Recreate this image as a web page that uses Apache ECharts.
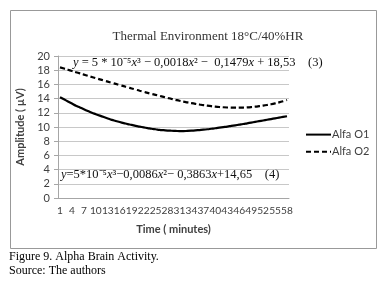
<!DOCTYPE html>
<html>
<head>
<meta charset="utf-8">
<script src="https://cdn.jsdelivr.net/npm/echarts@6/dist/echarts.min.js"></script>
<style>
  html, body { margin: 0; padding: 0; background: #fff; }
  #chart { width: 382px; height: 286px; }
</style>
</head>
<body>
<div id="chart"></div>
<script>
// minutes 1..58
var minutes = [];
for (var i = 1; i <= 58; i++) minutes.push(String(i));

// Alfa O1 (solid)
var alfaO1 = [
  14.2, 13.9, 13.6, 13.3, 13.0, 12.75, 12.5, 12.25, 12.0, 11.8,
  11.6, 11.4, 11.2, 11.0, 10.85, 10.7, 10.55, 10.4, 10.3, 10.15,
  10.05, 9.95, 9.85, 9.75, 9.68, 9.6, 9.55, 9.5, 9.47, 9.45,
  9.43, 9.43, 9.45, 9.48, 9.52, 9.57, 9.62, 9.68, 9.75, 9.82,
  9.9, 9.98, 10.06, 10.15, 10.24, 10.33, 10.42, 10.52, 10.62, 10.72,
  10.82, 10.92, 11.02, 11.12, 11.22, 11.32, 11.42, 11.52
];

// Alfa O2 (dashed)
var alfaO2 = [
  18.4, 18.23, 18.06, 17.89, 17.72, 17.55, 17.38, 17.21, 17.04, 16.87,
  16.71, 16.55, 16.39, 16.23, 16.07, 15.91, 15.75, 15.59, 15.43, 15.27,
  15.11, 14.96, 14.81, 14.66, 14.52, 14.38, 14.24, 14.1, 13.96, 13.83,
  13.7, 13.58, 13.47, 13.36, 13.26, 13.17, 13.08, 13.0, 12.93, 12.87,
  12.82, 12.78, 12.75, 12.73, 12.72, 12.72, 12.74, 12.77, 12.81, 12.86,
  12.93, 13.01, 13.1, 13.2, 13.32, 13.46, 13.62, 13.8
];

var sans = 'Lato';
var serif = 'Liberation Serif';

var myChart = echarts.init(document.getElementById('chart'));
myChart.setOption({
  animation: false,
  title: {
    text: 'Thermal Environment 18°C/40%HR',
    left: 208,
    textAlign: 'center',
    top: 30,
    padding: 0,
    textStyle: { fontFamily: serif, fontSize: 13, fontWeight: 'normal', color: '#333' }
  },
  legend: {
    orient: 'vertical',
    left: 305,
    top: 129,
    padding: 0,
    itemWidth: 25,
    itemHeight: 14,
    itemGap: 6,
    itemStyle: { opacity: 0 },
    textStyle: { fontFamily: sans, fontSize: 11, color: '#404040', padding: [0, 0, 0, -4] },
    data: ['Alfa O1', 'Alfa O2']
  },
  grid: { left: 58, right: 93, top: 56, bottom: 88 },
  xAxis: {
    type: 'category',
    data: minutes,
    boundaryGap: true,
    name: 'Time ( minutes)',
    nameLocation: 'middle',
    nameGap: 26,
    nameTextStyle: { fontFamily: sans, fontSize: 11, fontWeight: 'bold', color: '#404040' },
    axisLine: { lineStyle: { color: '#a6a6a6' } },
    axisTick: { interval: 0, length: 4, lineStyle: { color: '#a6a6a6' } },
    axisLabel: {
      interval: 2, fontFamily: sans, fontSize: 10.2, color: '#404040',
      margin: 8, hideOverlap: false
    },
    splitLine: { show: false }
  },
  yAxis: {
    type: 'value',
    min: 0,
    max: 20,
    interval: 2,
    name: 'Amplitude ( µV)',
    nameLocation: 'middle',
    nameGap: 19,
    nameTextStyle: { fontFamily: sans, fontSize: 11, fontWeight: 'bold', color: '#404040' },
    axisLine: { show: true, lineStyle: { color: '#a6a6a6' } },
    axisTick: { show: true, length: 4, lineStyle: { color: '#a6a6a6' } },
    axisLabel: { fontFamily: sans, fontSize: 11, color: '#404040', margin: 8 },
    splitLine: { lineStyle: { color: '#c8c8c8' } }
  },
  graphic: [
    {
      type: 'rect', shape: { x: 10.5, y: 10.5, width: 366, height: 238 },
      style: { fill: 'none', stroke: '#999', lineWidth: 1 }, silent: true
    },
    {
      type: 'text', left: 73, top: 56, z: 10,
      style: {
        text: '{i|y} = 5 * 10⁻⁵{i|x}³ − 0,0018{i|x}² −  0,1479{i|x} + 18,53    (3)',
        fontFamily: serif, fontSize: 12.5, fill: '#111',
        rich: { i: { fontStyle: 'italic', fontFamily: serif, fontSize: 12.5, fill: '#111' } }
      }
    },
    {
      type: 'text', left: 61, top: 168, z: 10,
      style: {
        text: '{i|y}=5*10⁻⁵{i|x}³−0,0086{i|x}²− 0,3863{i|x}+14,65    (4)',
        fontFamily: serif, fontSize: 12.5, fill: '#111',
        rich: { i: { fontStyle: 'italic', fontFamily: serif, fontSize: 12.5, fill: '#111' } }
      }
    },
    {
      type: 'text', left: 9, top: 251,
      style: { text: 'Figure 9. Alpha Brain Activity.', fontFamily: serif, fontSize: 12, fill: '#000' }
    },
    {
      type: 'text', left: 9, top: 265,
      style: { text: 'Source: The authors', fontFamily: serif, fontSize: 12, fill: '#000' }
    }
  ],
  series: [
    {
      name: 'Alfa O1',
      type: 'line',
      data: alfaO1,
      symbol: 'none',
      smooth: true,
      lineStyle: { color: '#000', width: 2.2 },
      itemStyle: { color: '#000' }
    },
    {
      name: 'Alfa O2',
      type: 'line',
      data: alfaO2,
      symbol: 'none',
      smooth: true,
      lineStyle: { color: '#000', width: 2.2, type: [5, 3] },
      itemStyle: { color: '#000' }
    }
  ]
});
</script>
</body>
</html>
